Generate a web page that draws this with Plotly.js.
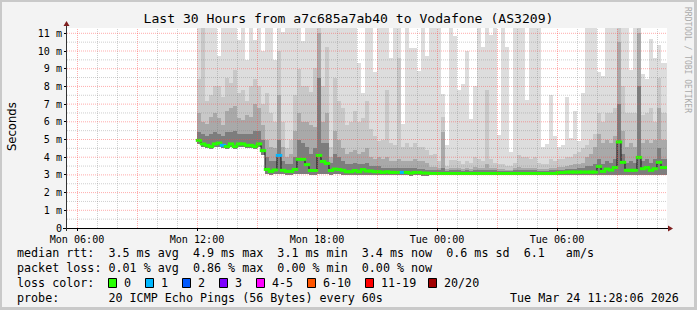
<!DOCTYPE html>
<html><head><meta charset="utf-8">
<script src="https://cdn.plot.ly/plotly-3.0.1.min.js"></script>
<style>
html,body{margin:0;padding:0;background:#f3f3f3;}
#chart{width:697px;height:310px;position:absolute;left:0;top:0;}
#frame{position:absolute;left:0;top:0;width:697px;height:310px;box-sizing:border-box;border:2px solid #c9c9c9;border-right-width:3px;border-bottom-width:3px;pointer-events:none;}
</style></head><body>
<div id="chart"></div><div id="frame"></div>
<script>
// ---- data (one column per 12-minute step, first column starts Mon 12:00) ----
const firstColumnUTC = Date.UTC(2026, 2, 23, 12, 0, 0);
const stepMinutes = 12;

const medianRtt = [
 4.95,4.75,4.67,4.60,4.75,4.80,4.67,4.60,4.75,4.60,
 4.75,4.75,4.67,4.67,4.60,4.75,4.37,3.31,3.20,3.28,
 4.10,3.26,3.20,3.20,3.31,3.88,3.88,3.58,3.25,3.25,
 4.10,3.76,3.65,3.25,3.33,3.30,3.26,3.18,3.18,3.25,
 3.18,3.30,3.22,3.22,3.18,3.18,3.14,3.18,3.14,3.14,
 3.14,3.14,3.14,3.10,3.14,3.14,3.10,3.10,3.08,3.08,
 3.08,3.08,3.08,3.08,3.08,3.08,3.08,3.08,3.08,3.08,
 3.08,3.08,3.08,3.08,3.08,3.08,3.08,3.08,3.08,3.08,
 3.08,3.08,3.08,3.08,3.08,3.08,3.08,3.08,3.08,3.08,
 3.13,3.13,3.16,3.16,3.16,3.16,3.16,3.16,3.16,3.16,
 3.48,3.20,3.33,3.27,3.42,4.86,3.71,3.26,3.26,3.26,
 3.99,3.35,3.42,3.26,3.35,3.71,3.42,3.42];

const lossPings = [
 0,0,0,0,0,0,1,0,0,0, 0,0,0,0,0,0,0,0,0,0,
 1,0,0,0,0,0,0,0,0,0, 0,0,0,0,0,0,0,0,0,0,
 0,0,0,0,0,0,0,0,0,0, 0,1,0,0,0,0,0,0,0,0,
 0,0,0,0,0,0,0,0,0,0, 0,0,0,0,0,0,0,0,0,0,
 0,0,0,0,0,0,0,0,0,0, 0,0,0,0,0,0,0,0,0,0,
 0,0,0,0,0,0,0,0,0,0, 0,0,0,0,0,0,0,0];

const smokeMin = [
 4.75,4.55,4.50,4.45,4.55,4.60,4.50,4.45,4.55,4.45,
 4.55,4.55,4.50,4.50,4.45,4.55,4.15,3.05,3.00,3.05,
 3.05,3.05,3.00,3.00,3.05,3.05,3.05,3.05,3.00,3.00,
 3.05,3.05,3.05,3.00,3.05,3.05,3.00,2.98,2.98,3.00,
 2.98,3.00,3.00,3.00,2.98,2.98,2.97,2.98,2.97,2.97,
 2.97,2.97,2.97,2.96,2.97,2.97,2.96,2.96,2.98,2.98,
 2.98,2.98,2.98,2.98,2.98,2.98,2.98,2.98,2.98,2.98,
 2.98,2.98,2.98,2.98,2.98,2.98,2.98,2.98,2.98,2.98,
 2.98,2.98,2.98,2.98,2.98,2.98,2.98,2.98,2.98,2.98,
 3.00,3.00,3.02,3.02,3.02,3.02,3.02,3.02,3.02,3.02,
 3.02,3.02,3.02,3.02,3.02,3.00,3.02,3.02,3.02,3.02,
 3.00,3.02,3.02,3.02,3.02,3.00,3.02,3.02];

const smokeDark = [
 5.4,5.3,5.2,5.3,5.4,5.3,5.2,5.4,5.4,5.5,
 5.3,5.3,5.3,5.3,5.5,5.5,5.0,4.0,3.8,3.8,
 5.0,3.8,3.6,3.6,4.0,5.0,4.8,4.6,4.2,4.5,
 8.5,4.8,4.8,3.7,4.2,4.0,3.8,3.6,3.6,3.7,
 3.6,3.6,3.7,3.5,3.5,3.5,3.4,3.4,3.4,3.4,
 3.4,3.4,3.4,3.4,3.4,3.35,3.35,3.3,3.25,3.25,
 3.25,3.4,3.2,3.25,3.25,3.25,3.2,3.25,3.2,3.25,
 3.25,3.25,3.3,3.25,3.25,3.2,3.2,3.2,3.2,3.25,
 3.3,3.25,3.25,3.25,3.25,3.2,3.2,3.2,3.25,3.25,
 3.3,3.3,3.35,3.35,3.35,3.4,3.4,3.5,3.5,3.6,
 3.9,3.6,3.8,3.7,3.9,7.0,4.2,3.7,3.8,3.7,
 8.0,3.8,3.9,3.7,3.9,4.5,3.9,3.9];

const smokeMid = [
 6.5,6.0,5.9,6.3,6.5,6.2,5.8,6.6,6.8,6.9,
 6.2,6.1,6.4,6.3,7.0,6.8,5.8,5.0,4.6,4.5,
 7.5,4.6,4.0,4.2,5.5,6.5,6.0,6.0,5.8,5.7,
 11.0,6.0,6.5,4.0,5.5,5.0,4.5,4.2,4.3,4.4,
 4.2,4.3,4.5,4.0,3.9,4.0,3.9,4.0,3.8,3.8,
 3.9,3.8,3.8,3.8,3.9,3.8,3.8,3.7,3.45,3.45,
 3.4,5.4,3.35,3.4,3.4,3.4,3.35,3.4,3.35,3.45,
 3.4,3.4,3.6,3.4,3.4,3.35,3.35,3.3,3.3,3.4,
 3.45,3.4,3.4,3.4,3.4,3.35,3.35,3.35,3.4,3.4,
 3.45,3.45,3.5,3.55,3.6,3.6,3.7,4.0,4.2,4.6,
 5.3,4.8,5.0,4.8,5.2,10.5,5.5,4.6,4.8,4.6,
 11.0,4.8,5.0,4.8,5.0,6.8,5.0,5.0];

const smokeLight = [
 8.4,11.3,7.2,7.5,8.0,8.0,7.4,8.5,8.2,8.9,
 7.6,7.8,7.2,8.0,8.4,8.0,7.0,7.6,6.5,6.0,
 10.0,6.0,4.5,5.0,7.5,9.0,8.0,8.0,7.7,9.05,
 11.5,8.0,10.2,4.6,8.5,7.2,6.8,5.8,6.0,6.6,
 6.0,6.2,7.15,5.6,5.2,4.9,5.0,7.8,4.8,4.7,
 9.6,4.6,4.8,4.6,4.8,4.6,4.6,4.4,4.1,4.2,
 3.8,6.27,3.5,3.86,3.86,3.8,3.6,3.8,3.7,4.0,
 3.9,3.8,7.8,3.9,3.7,3.6,3.6,3.5,3.5,3.7,
 4.1,4.0,4.0,3.9,4.0,3.7,3.6,3.6,3.9,3.8,
 3.9,3.9,4.0,4.0,4.2,4.3,4.5,4.7,5.0,5.3,
 6.5,6.0,6.5,6.5,6.8,11.5,8.0,6.5,6.5,6.5,
 11.5,6.4,6.5,6.8,6.0,8.5,6.5,6.5];

const smokeMax = [
 11.5,11.5,11.5,11.5,11.5,9.72,11.5,11.5,11.5,11.5,
 10.6,11.5,9.5,11.5,10.64,11.5,10.0,11.5,11.5,9.5,
 11.5,11.1,11.5,11.5,11.5,11.5,10.55,11.5,11.5,11.5,
 11.5,11.5,11.5,11.5,11.5,11.5,11.5,11.5,11.5,11.5,
 9.32,7.63,11.5,11.5,8.79,11.5,11.5,11.5,9.6,11.5,
 11.5,5.89,11.5,10.17,10.17,8.85,11.5,9.7,11.5,11.5,
 11.5,7.59,4.67,11.5,10.83,7.81,8.15,10.0,6.17,8.04,
 11.5,10.2,11.3,10.88,11.5,5.23,11.5,10.2,4.29,11.5,
 11.5,11.5,7.25,11.5,11.5,11.5,4.55,4.74,7.5,5.2,
 4.6,4.7,7.4,5.1,6.6,4.9,7.6,11.5,11.5,11.5,
 8.8,8.6,11.5,11.5,11.5,11.5,11.5,11.5,8.94,11.5,
 11.5,8.7,8.4,10.7,9.6,10.35,9.3,9.3];

const xTickVals = ['2026-03-23 06:00','2026-03-23 12:00','2026-03-23 18:00','2026-03-24 00:00','2026-03-24 06:00'];
const xTickText = ['Mon 06:00','Mon 12:00','Mon 18:00','Tue 00:00','Tue 06:00'];
const yTickVals = [0,1,2,3,4,5,6,7,8,9,10,11];
const yTickText = ['0','1 m','2 m','3 m','4 m','5 m','6 m','7 m','8 m','9 m','10 m','11 m'];

const lossLabels = ['0','1','2','3','4-5','6-10','11-19','20/20'];
const lossColors = ['#26ff00','#00b8ff','#0059ff','#7e00ff','#ff00ff','#ff5500','#ff0000','#a10000'];

const titleText = 'Last 30 Hours from a7c685a7ab40 to Vodafone (AS3209)';
const rttLine = 'median rtt:  3.5 ms avg  4.9 ms max  3.1 ms min  3.4 ms now  0.6 ms sd  6.1   am/s';
const lossLine = 'packet loss: 0.01 % avg  0.86 % max  0.00 % min  0.00 % now';
const probeLine = 'probe:       20 ICMP Echo Pings (56 Bytes) every 60s';
const stampText = 'Tue Mar 24 11:28:06 2026';
const watermark = 'RRDTOOL / TOBI OETIKER';

// ---- geometry helpers ----
const L = 67, T = 28, PW = 600, PH = 200;
const px = x => (x - L) / PW;
const py = y => (T + PH - y) / PH;
const ts = ms => new Date(ms).toISOString().replace('T', ' ').replace('Z', '');
const nb = s => s.replace(/ /g, '\u00a0');

const stepMs = stepMinutes * 60000;
const times = medianRtt.map((_, i) => ts(firstColumnUTC + i * stepMs + stepMs / 2));

const mono = 'DejaVu Sans Mono, monospace';
const traces = [];
const layers = [
  [smokeMax, '#dddddd'],
  [smokeLight, '#c8c8c8'],
  [smokeMid, '#a9a9a9'],
  [smokeDark, '#7d7d7d']
];
layers.forEach(([arr, col]) => {
  traces.push({
    type: 'bar', x: times, base: smokeMin,
    y: arr.map((v, i) => v - smokeMin[i]),
    width: stepMs * 1.12, marker: {color: col, line: {width: 0}},
    hoverinfo: 'skip'
  });
});
traces.push({
  type: 'scatter', mode: 'lines', x: times, y: medianRtt,
  line: {shape: 'hvh', color: '#111', width: 1}, hoverinfo: 'skip'
});
traces.push({
  type: 'scatter', mode: 'markers', x: times, y: medianRtt,
  marker: {symbol: 'line-ew', size: 4.6,
    line: {width: 3, color: lossPings.map(l => lossColors[l])}},
  hoverinfo: 'skip'
});

// ---- grid (drawn above the smoke, like rrdtool) ----
const redGrid = 'rgba(255,70,70,0.45)', grayGrid = 'rgba(130,130,130,0.38)';
const shapes = [];
const dayStart = Date.UTC(2026, 2, 23, 0, 0, 0);
for (let h = 6; h <= 35; h++) {
  const t = ts(dayStart + h * 3600000 + 90000);
  shapes.push({type: 'line', xref: 'x', yref: 'paper', x0: t, x1: t, y0: 0, y1: 1, layer: 'above',
    line: {color: h % 3 === 0 ? redGrid : grayGrid, width: 1, dash: '1px,1px'}});
}
for (let k = 1; k <= 22; k++) {
  const v = k * 0.5;
  shapes.push({type: 'line', xref: 'paper', yref: 'y', x0: 0, x1: 1, y0: v, y1: v, layer: 'above',
    line: {color: k % 2 === 0 ? redGrid : grayGrid, width: 1, dash: '1px,1px'}});
}
// axes with arrows
shapes.push({type: 'line', xref: 'paper', yref: 'paper', x0: px(63), x1: px(668), y0: py(228.5), y1: py(228.5),
  line: {color: '#000', width: 1}, layer: 'above'});
shapes.push({type: 'line', xref: 'paper', yref: 'paper', x0: px(66.5), x1: px(66.5), y0: py(231), y1: py(24),
  line: {color: '#333', width: 1}, layer: 'above'});
shapes.push({type: 'path', xref: 'paper', yref: 'paper', layer: 'above',
  path: `M ${px(668)} ${py(225.5)} L ${px(673)} ${py(228.5)} L ${px(668)} ${py(231.5)} Z`,
  fillcolor: '#7f1f1f', line: {width: 0}});
shapes.push({type: 'path', xref: 'paper', yref: 'paper', layer: 'above',
  path: `M ${px(63.5)} ${py(26)} L ${px(66.5)} ${py(21)} L ${px(69.5)} ${py(26)} Z`,
  fillcolor: '#7f1f1f', line: {width: 0}});

// ---- texts ----
const legendFont = {family: mono, size: 11.7, color: '#000'};
const ann = [];
const addText = (x, y, text, font, extra) => ann.push(Object.assign({
  xref: 'paper', yref: 'paper', x: px(x), y: py(y), text: nb(text), showarrow: false,
  xanchor: 'left', yanchor: 'middle', font: font, borderpad: 0
}, extra || {}));

addText(16, 253, rttLine, legendFont);
addText(16, 268, lossLine, legendFont);
addText(16, 283, 'loss color:', legendFont);
addText(16, 298, probeLine, legendFont);
addText(680, 298, stampText, legendFont, {xanchor: 'right'});
addText(12, 127, 'Seconds', {family: 'DejaVu Sans, sans-serif', size: 11.6, color: '#000'}, {xanchor: 'center', textangle: -90});
addText(688, 60, watermark, {family: mono, size: 8, color: '#aaaaaa'}, {xanchor: 'center', textangle: 90});

const boxLeft = [108, 145, 182, 219, 256, 307, 365, 428];
lossLabels.forEach((lab, i) => {
  shapes.push({type: 'rect', xref: 'paper', yref: 'paper', layer: 'above',
    x0: px(boxLeft[i] + 0.5), x1: px(boxLeft[i] + 8.5), y0: py(278.5), y1: py(287.5),
    fillcolor: lossColors[i], line: {color: '#000', width: 1}});
  addText(boxLeft[i] + 15, 283, lab, legendFont);
});

const layout = {
  width: 697, height: 310,
  margin: {l: L, r: 697 - L - PW, t: T, b: 310 - T - PH, pad: 0},
  paper_bgcolor: '#f3f3f3', plot_bgcolor: '#ffffff',
  showlegend: false, barmode: 'overlay', bargap: 0, hovermode: false,
  title: {text: titleText, font: {family: mono, size: 13.1, color: '#000'},
    x: 0.5, xref: 'container', xanchor: 'center', y: 1 - 18 / 310, yref: 'container', yanchor: 'middle'},
  xaxis: {type: 'date', range: ['2026-03-23 05:30', '2026-03-24 11:30'],
    tickmode: 'array', tickvals: xTickVals, ticktext: xTickText,
    showgrid: false, zeroline: false, showline: false, ticks: 'outside', ticklen: 2, tickcolor: '#000',
    tickfont: {family: mono, size: 10.1, color: '#000'}},
  yaxis: {range: [0, 11.3], tickmode: 'array', tickvals: yTickVals, ticktext: yTickText,
    showgrid: false, zeroline: false, showline: false, ticks: 'outside', ticklen: 2, tickcolor: '#000',
    tickfont: {family: mono, size: 10.1, color: '#000'}},
  shapes: shapes, annotations: ann
};
Plotly.newPlot('chart', traces, layout, {staticPlot: true, displayModeBar: false});
</script>
</body></html>
